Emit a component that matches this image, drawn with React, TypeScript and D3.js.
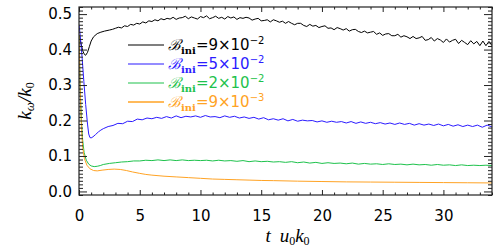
import { type RefObject, useEffect, useRef } from "react";
import * as d3 from "d3";

type Pt = [number, number];

// t u0k0 , k_w/k0
const blackCurve: Pt[] = [
  [0, 0.44], [0.15, 0.42], [0.3, 0.397], [0.45, 0.386], [0.55, 0.384], [0.7, 0.392],
  [0.85, 0.408], [1.0, 0.424], [1.2, 0.436], [1.5, 0.445], [1.8, 0.449], [2.1, 0.452],
  [2.5, 0.455], [2.75, 0.457],
  [3.0, 0.46], [3.25, 0.463], [3.5, 0.461], [3.75, 0.467], [4.0, 0.465], [4.25, 0.471],
  [4.5, 0.469], [4.75, 0.474], [5.0, 0.472], [5.25, 0.478], [5.5, 0.475], [5.75, 0.481],
  [6.0, 0.479], [6.25, 0.484], [6.5, 0.481], [6.75, 0.487],
  [7.0, 0.484], [7.25, 0.488], [7.5, 0.486], [7.75, 0.491], [8.0, 0.485], [8.25, 0.489],
  [8.5, 0.49], [8.75, 0.494], [9.0, 0.487], [9.25, 0.492], [9.5, 0.489], [9.75, 0.486],
  [10.0, 0.493], [10.25, 0.49], [10.5, 0.495], [10.75, 0.487], [11.0, 0.49], [11.25, 0.494],
  [11.5, 0.488], [11.75, 0.491], [12.0, 0.486], [12.25, 0.493], [12.5, 0.489], [12.75, 0.492],
  [13.0, 0.485], [13.25, 0.49], [13.5, 0.488], [13.75, 0.491],
  [14.0, 0.489], [14.25, 0.483], [14.5, 0.486], [14.75, 0.488], [15.0, 0.481], [15.25, 0.482],
  [15.5, 0.484], [15.75, 0.478], [16.0, 0.484], [16.25, 0.481], [16.5, 0.477], [16.75, 0.48],
  [17.0, 0.474], [17.25, 0.479], [17.5, 0.474], [17.75, 0.47], [18.0, 0.474], [18.25, 0.474],
  [18.5, 0.468], [18.75, 0.465], [19.0, 0.471], [19.25, 0.466], [19.5, 0.468], [19.75, 0.462],
  [20.0, 0.465], [20.25, 0.467], [20.5, 0.46], [20.75, 0.461], [21.0, 0.456], [21.25, 0.462],
  [21.5, 0.459], [21.75, 0.455], [22.0, 0.459], [22.25, 0.452], [22.5, 0.456], [22.75, 0.457],
  [23.0, 0.451], [23.25, 0.448], [23.5, 0.452], [23.75, 0.447], [24.0, 0.449], [24.25, 0.451],
  [24.5, 0.443], [24.75, 0.447], [25.0, 0.44], [25.25, 0.444], [25.5, 0.445], [25.75, 0.439],
  [26.0, 0.439], [26.25, 0.443], [26.5, 0.435], [26.75, 0.439], [27.0, 0.436], [27.25, 0.431],
  [27.5, 0.437], [27.75, 0.431], [28.0, 0.433], [28.25, 0.437], [28.5, 0.426], [28.75, 0.428],
  [29.0, 0.434], [29.25, 0.424], [29.5, 0.431], [29.75, 0.427], [30.0, 0.42], [30.25, 0.43],
  [30.5, 0.421], [30.75, 0.426], [31.0, 0.429], [31.25, 0.417], [31.5, 0.426], [31.75, 0.42],
  [32.0, 0.414], [32.25, 0.425], [32.5, 0.416], [32.75, 0.423], [33.0, 0.411], [33.25, 0.424],
  [33.5, 0.411], [33.75, 0.423], [34.0, 0.411],
];

const blueCurve: Pt[] = [
  [0, 0.47], [0.1, 0.44], [0.25, 0.38], [0.4, 0.31], [0.55, 0.245], [0.7, 0.19],
  [0.8, 0.162], [0.9, 0.152], [1.0, 0.151], [1.15, 0.154], [1.35, 0.16], [1.6, 0.168],
  [1.8, 0.173], [2.0, 0.177],
  [2.4, 0.183], [2.8, 0.186], [3.2, 0.192], [3.6, 0.191], [4.0, 0.198], [4.4, 0.197],
  [4.8, 0.204], [5.2, 0.202], [5.6, 0.207], [6.0, 0.205], [6.4, 0.209], [6.8, 0.206],
  [7.2, 0.211], [7.6, 0.207], [8.0, 0.213], [8.4, 0.208], [8.8, 0.212], [9.2, 0.21],
  [9.6, 0.213], [10.0, 0.209], [10.4, 0.214], [10.8, 0.21], [11.2, 0.211], [11.6, 0.208],
  [12.0, 0.213], [12.4, 0.209], [12.8, 0.212], [13.2, 0.207], [13.6, 0.21], [14.0, 0.206],
  [14.4, 0.209], [14.8, 0.204], [15.2, 0.208], [15.6, 0.202], [16.0, 0.205], [16.4, 0.201],
  [16.8, 0.205], [17.2, 0.199], [17.6, 0.203], [18.0, 0.198], [18.4, 0.201], [18.8, 0.199],
  [19.2, 0.2], [19.6, 0.196], [20.0, 0.199], [20.4, 0.195], [20.8, 0.198], [21.2, 0.195],
  [21.6, 0.197], [22.0, 0.193], [22.4, 0.197], [22.8, 0.192], [23.2, 0.196], [23.6, 0.192],
  [24.0, 0.195], [24.4, 0.191], [24.8, 0.194], [25.2, 0.19], [25.6, 0.193], [26.0, 0.189],
  [26.4, 0.193], [26.8, 0.189], [27.2, 0.192], [27.6, 0.187], [28.0, 0.191], [28.4, 0.187],
  [28.8, 0.19], [29.2, 0.186], [29.6, 0.19], [30.0, 0.185], [30.4, 0.189], [30.8, 0.184],
  [31.2, 0.188], [31.6, 0.183], [32.0, 0.187], [32.4, 0.183], [32.8, 0.187], [33.2, 0.181],
  [33.6, 0.187], [34.0, 0.182],
];

const greenCurve: Pt[] = [
  [0, 0.44], [0.05, 0.36], [0.12, 0.27], [0.2, 0.2], [0.3, 0.145], [0.42, 0.11],
  [0.6, 0.088], [0.8, 0.077], [1.0, 0.072], [1.25, 0.07], [1.5, 0.071], [1.75, 0.073],
  [2.0, 0.076], [2.5, 0.079], [3.0, 0.081], [3.5, 0.083], [4.0, 0.084], [4.5, 0.086],
  [5.0, 0.086], [5.5, 0.088], [6.0, 0.087], [6.5, 0.089], [7.0, 0.087], [7.5, 0.089],
  [8.0, 0.087], [8.5, 0.089], [9.0, 0.087], [9.5, 0.088], [10.0, 0.087], [10.5, 0.088],
  [11.0, 0.086], [11.5, 0.088], [12.0, 0.086], [12.5, 0.087], [13.0, 0.085], [13.5, 0.087],
  [14.0, 0.084], [14.5, 0.086], [15.0, 0.084], [15.5, 0.085], [16.0, 0.083], [16.5, 0.084],
  [17.0, 0.082], [17.5, 0.084], [18.0, 0.081], [18.5, 0.083], [19.0, 0.08], [19.5, 0.082],
  [20.0, 0.079], [20.5, 0.081], [21.0, 0.079], [21.5, 0.08], [22.0, 0.078], [22.5, 0.08],
  [23.0, 0.077], [23.5, 0.079], [24.0, 0.077], [24.5, 0.078], [25.0, 0.076], [25.5, 0.078],
  [26.0, 0.076], [26.5, 0.077], [27.0, 0.075], [27.5, 0.077], [28.0, 0.075], [28.5, 0.076],
  [29.0, 0.074], [29.5, 0.076], [30.0, 0.074], [30.5, 0.075], [31.0, 0.073], [31.5, 0.075],
  [32.0, 0.073], [32.5, 0.074], [33.0, 0.073], [33.5, 0.074], [34.0, 0.073],
];

const orangeCurve: Pt[] = [
  [0, 0.44], [0.06, 0.35], [0.12, 0.26], [0.2, 0.18], [0.3, 0.125], [0.45, 0.092],
  [0.65, 0.074], [0.9, 0.064], [1.2, 0.059], [1.5, 0.058], [1.9, 0.06], [2.4, 0.062],
  [2.9, 0.063], [3.4, 0.062], [3.9, 0.059], [4.4, 0.055], [5.0, 0.051], [5.5, 0.048],
  [6.0, 0.046], [7.0, 0.043], [8.0, 0.041], [9.0, 0.039], [10.0, 0.037], [11.0, 0.035],
  [12.0, 0.034], [13.0, 0.033], [14.0, 0.032], [15.0, 0.031], [16.0, 0.0305], [18.0, 0.029],
  [20.0, 0.028], [22.0, 0.027], [24.0, 0.0265], [26.0, 0.026], [28.0, 0.0255], [30.0, 0.025],
  [32.0, 0.0245], [34.0, 0.024],
];

const seriesColors = ["#000000", "#2b1bff", "#1ec24c", "#ffa324"];
const legendValues = [
  ["9", "−2"],
  ["5", "−2"],
  ["2", "−2"],
  ["9", "−3"],
];
const xMajorTicks = [0, 5, 10, 15, 20, 25, 30];
const yMajorTicks = [0, 0.1, 0.2, 0.3, 0.4, 0.5];

const W = 498;
const H = 249;
const m = { left: 79, right: 6, top: 7, bottom: 54 };

const drawGraph = (svgRef: RefObject<SVGSVGElement>) => {
  const svg = d3.select(svgRef.current).attr("width", W).attr("height", H);

  const x = d3.scaleLinear().domain([0, 34]).range([m.left, W - m.right]);
  const y = d3.scaleLinear().domain([-0.01, 0.52]).range([H - m.bottom, m.top]);
  const [x0, x1] = x.range();
  const [y0, y1] = y.range();

  svg
    .append("defs")
    .append("clipPath")
    .attr("id", "plot-clip")
    .append("rect")
    .attr("x", x0)
    .attr("y", y1)
    .attr("width", x1 - x0)
    .attr("height", y0 - y1);

  const line = d3
    .line<Pt>()
    .x((d) => x(d[0]))
    .y((d) => y(d[1]));

  const curves = [blackCurve, blueCurve, greenCurve, orangeCurve];
  const plot = svg.append("g").attr("clip-path", "url(#plot-clip)");
  curves.forEach((c, i) => {
    plot
      .append("path")
      .datum(c)
      .attr("fill", "none")
      .attr("stroke", seriesColors[i])
      .attr("stroke-width", 1)
      .attr("stroke-linejoin", "round")
      .attr("d", line);
  });

  const font = "'DejaVu Sans', sans-serif";
  const xMinor = d3.range(0, 35, 1).filter((v) => v % 5 !== 0);
  const yMinor = d3.range(-1, 53, 1).map((v) => v / 100).filter((v) => Math.round(v * 100) % 10 !== 0);

  const styleAxis = (g: d3.Selection<SVGGElement, unknown, null, undefined>) => {
    g.select(".domain").remove();
    g.selectAll("line").attr("stroke", "#222");
  };

  // bottom
  svg.append("g").attr("transform", `translate(0,${y0})`)
    .call(d3.axisBottom(x).tickValues(xMajorTicks).tickSize(-5).tickPadding(15).tickFormat(d3.format("d")))
    .call(styleAxis)
    .call((g) => g.selectAll("text").attr("font-family", font).attr("font-size", 15).attr("fill", "#000"));
  svg.append("g").attr("transform", `translate(0,${y0})`)
    .call(d3.axisBottom(x).tickValues(xMinor).tickSize(-2.5).tickFormat(() => ""))
    .call(styleAxis);
  // top
  svg.append("g").attr("transform", `translate(0,${y1})`)
    .call(d3.axisTop(x).tickValues(xMajorTicks).tickSize(-5).tickFormat(() => ""))
    .call(styleAxis);
  svg.append("g").attr("transform", `translate(0,${y1})`)
    .call(d3.axisTop(x).tickValues(xMinor).tickSize(-2.5).tickFormat(() => ""))
    .call(styleAxis);
  // left
  svg.append("g").attr("transform", `translate(${x0},0)`)
    .call(d3.axisLeft(y).tickValues(yMajorTicks).tickSize(-8).tickPadding(7).tickFormat(d3.format(".1f")))
    .call(styleAxis)
    .call((g) => g.selectAll("text").attr("font-family", font).attr("font-size", 15).attr("fill", "#000"));
  svg.append("g").attr("transform", `translate(${x0},0)`)
    .call(d3.axisLeft(y).tickValues(yMinor).tickSize(-4).tickFormat(() => ""))
    .call(styleAxis);
  // right
  svg.append("g").attr("transform", `translate(${x1},0)`)
    .call(d3.axisRight(y).tickValues(yMajorTicks).tickSize(-8).tickFormat(() => ""))
    .call(styleAxis);
  svg.append("g").attr("transform", `translate(${x1},0)`)
    .call(d3.axisRight(y).tickValues(yMinor).tickSize(-4).tickFormat(() => ""))
    .call(styleAxis);

  svg.append("rect")
    .attr("x", x0).attr("y", y1)
    .attr("width", x1 - x0).attr("height", y0 - y1)
    .attr("fill", "none").attr("stroke", "#222").attr("stroke-width", 1.2);

  // legend
  const leg = svg.append("g");
  legendValues.forEach(([mant, expo], i) => {
    const ly = 45 + i * 19;
    leg.append("line")
      .attr("x1", 128).attr("x2", 164).attr("y1", ly).attr("y2", ly)
      .attr("stroke", seriesColors[i]).attr("stroke-width", i === 3 ? 1.6 : 1.2);
    const t = leg.append("text")
      .attr("x", 168).attr("y", ly + 5)
      .attr("fill", seriesColors[i])
      .attr("font-family", font).attr("font-size", 15);
    t.append("tspan").attr("font-family", "'DejaVu Serif', serif").attr("font-style", "italic").text("ℬ");
    t.append("tspan").attr("font-family", "'DejaVu Serif', serif").attr("font-weight", "bold")
      .attr("font-size", 10).attr("dy", 4).text("ini");
    t.append("tspan").attr("dy", -4).text(`=${mant}×10`);
    t.append("tspan").attr("font-size", 10).attr("dy", -6).text(expo);
  });

  // axis titles
  const serif = "'Liberation Serif', 'Times New Roman', serif";
  const xt = svg.append("text")
    .attr("x", (x0 + x1) / 2 + 2).attr("y", 242)
    .attr("text-anchor", "middle")
    .attr("font-family", serif).attr("font-style", "italic").attr("font-size", 19);
  xt.append("tspan").text("t");
  xt.append("tspan").attr("dx", 9).text("u");
  xt.append("tspan").attr("font-size", 12).attr("dy", 3).attr("font-style", "normal").text("0");
  xt.append("tspan").attr("dy", -3).text("k");
  xt.append("tspan").attr("font-size", 12).attr("dy", 3).attr("font-style", "normal").text("0");

  const yt = svg.append("text")
    .attr("transform", `translate(31,${(y0 + y1) / 2}) rotate(-90)`)
    .attr("text-anchor", "middle")
    .attr("font-family", serif).attr("font-style", "italic").attr("font-size", 19);
  yt.append("tspan").text("k");
  yt.append("tspan").attr("font-size", 13).attr("dy", 3).text("ω");
  yt.append("tspan").attr("dy", -3).text("/");
  yt.append("tspan").text("k");
  yt.append("tspan").attr("font-size", 12).attr("dy", 3).attr("font-style", "normal").text("0");
};

const clearGraph = (svgRef: RefObject<SVGSVGElement>) => {
  d3.select(svgRef.current).selectAll("*").remove();
};

const App = () => {
  const svgRef = useRef<SVGSVGElement>(null);

  useEffect(() => {
    drawGraph(svgRef);
    return () => {
      clearGraph(svgRef);
    };
  }, [svgRef]);

  return (
    <div>
      <svg ref={svgRef} style={{ position: "absolute", left: 0, top: 0, background: "#fff" }}></svg>
    </div>
  );
};

export default App;
